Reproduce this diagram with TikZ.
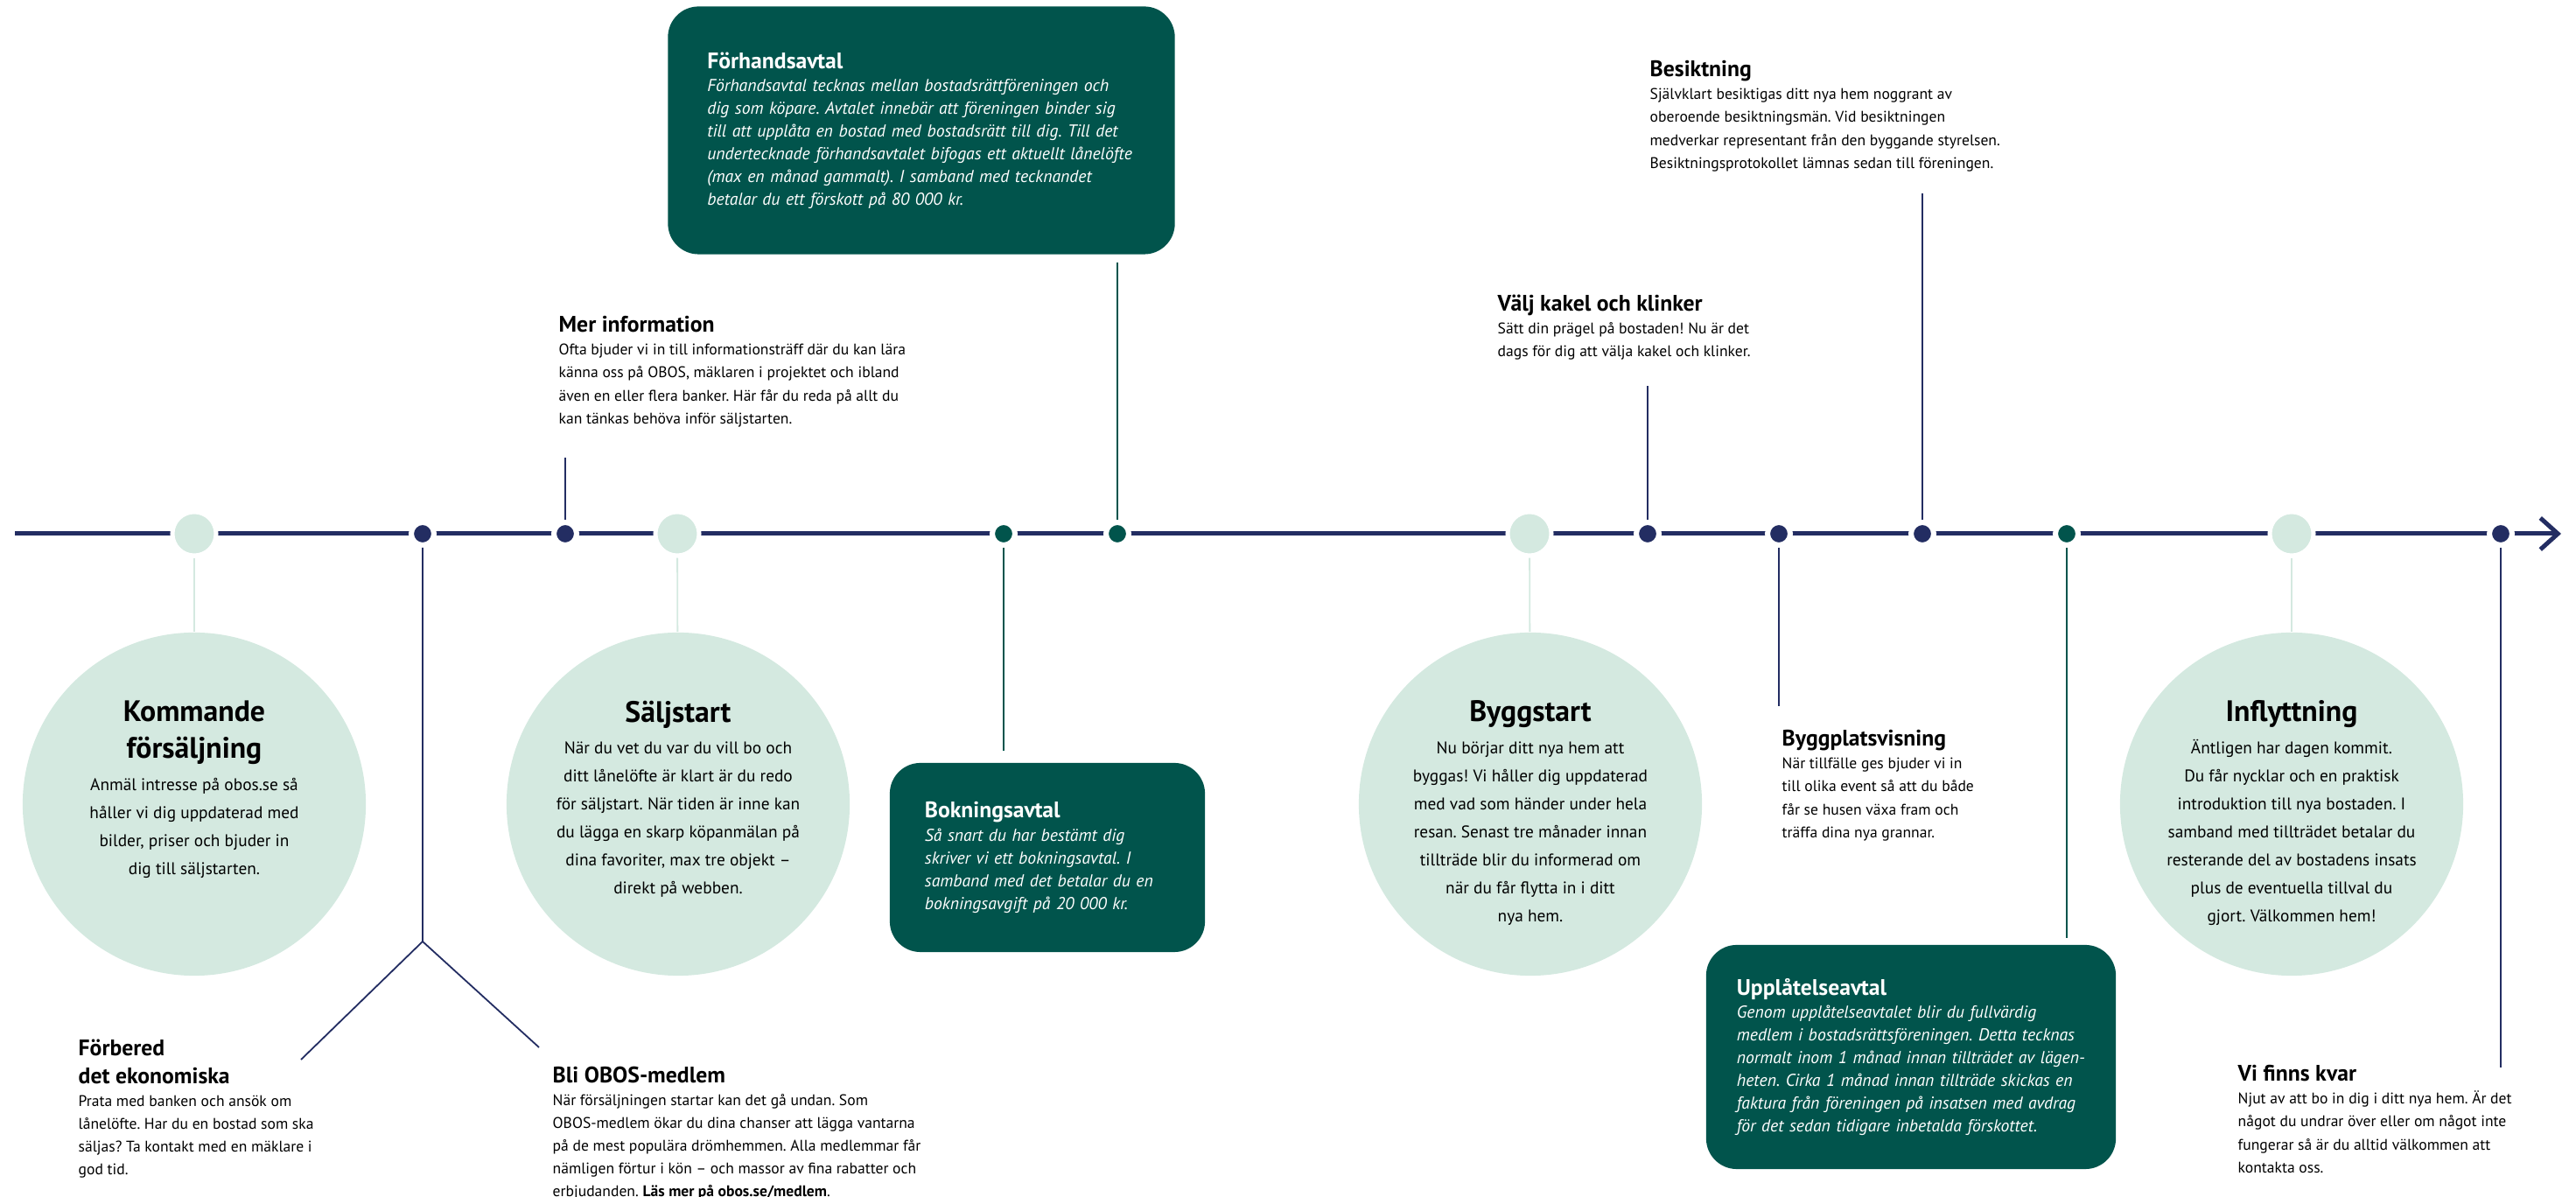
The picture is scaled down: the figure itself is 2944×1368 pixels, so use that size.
\documentclass[tikz,border=0pt]{standalone}
\usepackage{fontspec}
\setmainfont{PT Sans}
\usepackage{tikz}
\usepackage{xcolor}
\usetikzlibrary{arrows.meta}
\definecolor{obosnavy}{HTML}{232D62}
\definecolor{obosgreen}{HTML}{01544C}
\definecolor{obosmint}{HTML}{D4E9E0}
\newcommand*{\BodyFont}{\fontsize{5}{7.4}\selectfont}
\newcommand*{\HeadFont}{\fontsize{7.3}{7.4}\selectfont\bfseries}
\newcommand*{\AvtalFont}{\fontsize{5.6}{7.4}\selectfont\itshape}
\newcommand*{\RoundBody}{\fontsize{5.5}{9.1}\selectfont}
\newcommand*{\RoundHead}{\fontsize{9.6}{12}\selectfont\bfseries}
\frenchspacing

\begin{document}
\begin{tikzpicture}[x=0.01cm, y=-0.01cm,
    navydot/.style={circle, fill=obosnavy, draw=white, line width=0.06cm, minimum size=0.26cm, inner sep=0pt},
    greendot/.style={navydot, fill=obosgreen},
    mintdot/.style={circle, fill=obosmint, draw=white, line width=0.05cm, minimum size=0.5cm, inner sep=0pt},
    phasecircle/.style={circle, fill=obosmint, minimum size=3.92cm, inner sep=0pt},
    roundtext/.style={anchor=north, align=center, inner sep=0pt, font=\RoundBody},
    infotext/.style={anchor=north west, align=left, inner sep=0pt, font=\BodyFont},
    avtal/.style={fill=obosgreen, rounded corners=0.35cm, text=white, align=left, inner xsep=0.45cm, inner ysep=0pt, font=\AvtalFont},
    navyline/.style={draw=obosnavy, line width=0.018cm},
    greenline/.style={draw=obosgreen, line width=0.018cm},
    mintline/.style={draw=obosmint, line width=0.018cm}]
    \useasboundingbox (0,0) rectangle (2944,1368);

    % timeline
    \draw[obosnavy, line width=0.05cm, -{Straight Barb[length=0.2cm, width=0.36cm]}] (17,610) -- (2927,610);
    \foreach \name/\x in {kom/222, salj/774, bygg/1748, infl/2619}
        \node[mintdot] (\name) at (\x,610) {};
    \foreach \name/\x in {ekon/483, info/646, kakel/1883, visn/2033, besikt/2197, kvar/2858}
        \node[navydot] (\name) at (\x,610) {};
    \foreach \name/\x in {bok/1147, forh/1277, uppl/2362}
        \node[greendot] (\name) at (\x,610) {};

    % big circles
    \node[phasecircle] (komcirc) at (222,919) {};
    \node[phasecircle] (saljcirc) at (775,919) {};
    \node[phasecircle] (byggcirc) at (1749,919) {};
    \node[phasecircle] (inflcirc) at (2619,919) {};

    \node[roundtext] (komtext) at (222,800) {{\RoundHead Kommande}\\[2.9pt]{\RoundHead försäljning}\\[1.4pt]
        Anmäl intresse på obos.se så\\ håller vi dig uppdaterad med\\ bilder, priser och bjuder in\\ dig till säljstarten.};
    \node[roundtext] (saljtext) at (775,800) {{\RoundHead Säljstart}\\[1.4pt]
        När du vet du var du vill bo och\\ ditt lånelöfte är klart är du redo\\ för säljstart. När tiden är inne kan\\
        du lägga en skarp köpanmälan på\\ dina favoriter, max tre objekt –\\ direkt på webben.};
    \node[roundtext] (byggtext) at (1749,800) {{\RoundHead Byggstart}\\[1.4pt]
        Nu börjar ditt nya hem att\\ byggas! Vi håller dig uppdaterad\\ med vad som händer under hela\\
        resan. Senast tre månader innan\\ tillträde blir du informerad om\\ när du får flytta in i ditt\\ nya hem.};
    \node[roundtext] (infltext) at (2619,800) {{\RoundHead Inflyttning}\\[1.4pt]
        Äntligen har dagen kommit.\\ Du får nycklar och en praktisk\\ introduktion till nya bostaden. I\\
        samband med tillträdet betalar du\\ resterande del av bostadens insats\\ plus de eventuella tillval du\\ gjort. Välkommen hem!};

    % agreements
    \node[avtal, text width=4.89cm, minimum height=2.83cm] (forhbox) at (1053,149) {{\HeadFont\upshape Förhandsavtal}\\
        Förhandsavtal tecknas mellan bostadsrättföreningen och\\ dig som köpare. Avtalet innebär att föreningen binder sig\\
        till att upplåta en bostad med bostadsrätt till dig. Till det\\ undertecknade förhandsavtalet bifogas ett aktuellt lånelöfte\\
        (max en månad gammalt). I samband med tecknandet\\ betalar du ett förskott på 80 000 kr.};
    \node[avtal, inner xsep=0.4cm, text width=2.8cm, minimum height=2.16cm] (bokbox) at (1197,980) {{\HeadFont\upshape Bokningsavtal}\\
        Så snart du har bestämt dig\\ skriver vi ett bokningsavtal. I\\ samband med det betalar du en\\ bokningsavgift på 20 000 kr.};
    \node[avtal, inner xsep=0.35cm, text width=3.98cm, minimum height=2.56cm] (upplbox) at (2184,1208) {{\HeadFont\upshape Upplåtelseavtal}\\
        Genom upplåtelseavtalet blir du fullvärdig\\ medlem i bostadsrättsföreningen. Detta tecknas\\
        normalt inom 1 månad innan tillträdet av lägen-\\ heten. Cirka 1 månad innan tillträde skickas en\\
        faktura från föreningen på insatsen med avdrag\\ för det sedan tidigare inbetalda förskottet.};

    % notes
    \node[infotext] (infonote) at (638,361) {{\HeadFont Mer information}\\
        Ofta bjuder vi in till informationsträff där du kan lära\\ känna oss på OBOS, mäklaren i projektet och ibland\\
        även en eller flera banker. Här får du reda på allt du\\ kan tänkas behöva inför säljstarten.};
    \node[infotext] (ekonnote) at (89,1187) {{\HeadFont Förbered}\\[1.7pt]{\HeadFont det ekonomiska}\\
        Prata med banken och ansök om\\ lånelöfte. Har du en bostad som ska\\ säljas? Ta kontakt med en mäklare i\\ god tid.};
    \node[infotext] (medlemnote) at (631,1218) {{\HeadFont Bli OBOS-medlem}\\
        När försäljningen startar kan det gå undan. Som\\ OBOS-medlem ökar du dina chanser att lägga vantarna\\
        på de mest populära drömhemmen. Alla medlemmar får\\ nämligen förtur i kön – och massor av fina rabatter och\\
        erbjudanden. \textbf{Läs mer på obos.se/medlem}.};
    \node[infotext] (kakelnote) at (1711,336) {{\HeadFont Välj kakel och klinker}\\
        Sätt din prägel på bostaden! Nu är det\\ dags för dig att välja kakel och klinker.};
    \node[infotext] (besiktnote) at (1885,69) {{\HeadFont Besiktning}\\
        Självklart besiktigas ditt nya hem noggrant av\\ oberoende besiktningsmän. Vid besiktningen\\
        medverkar representant från den byggande styrelsen.\\ Besiktningsprotokollet lämnas sedan till föreningen.};
    \node[infotext] (visnnote) at (2036,834) {{\HeadFont Byggplatsvisning}\\
        När tillfälle ges bjuder vi in\\ till olika event så att du både\\ får se husen växa fram och\\ träffa dina nya grannar.};
    \node[infotext] (kvarnote) at (2557,1217) {{\HeadFont Vi finns kvar}\\
        Njut av att bo in dig i ditt nya hem. Är det\\ något du undrar över eller om något inte\\
        fungerar så är du alltid välkommen att\\ kontakta oss.};

    % connectors
    \coordinate (ekonsplit) at (483,1076);
    \coordinate (ekonleft) at (344,1211);
    \coordinate (ekonright) at (616,1197);
    \coordinate (infotop) at (646,523);
    \coordinate (kakeltop) at (1883,441);
    \coordinate (visnend) at (2033,807);
    \coordinate (besikttop) at (2197,221);
    \coordinate (kvarend) at (2858,1220);
    \draw[mintline] (kom) -- (komcirc);
    \draw[mintline] (salj) -- (saljcirc);
    \draw[mintline] (bygg) -- (byggcirc);
    \draw[mintline] (infl) -- (inflcirc);
    \draw[navyline] (ekon) -- (ekonsplit) -- (ekonleft);
    \draw[navyline] (ekonsplit) -- (ekonright);
    \draw[navyline] (info) -- (infotop);
    \draw[navyline] (kakel) -- (kakeltop);
    \draw[navyline] (visn) -- (visnend);
    \draw[navyline] (besikt) -- (besikttop);
    \draw[navyline] (kvar) -- (kvarend);
    \draw[greenline, shorten >=0.13cm] (bok) -- (bok |- bokbox.north);
    \draw[greenline, shorten >=0.09cm] (forh) -- (forh |- forhbox.south);
    \draw[greenline, shorten >=0.07cm] (uppl) -- (uppl |- upplbox.north);
\end{tikzpicture}
\end{document}
